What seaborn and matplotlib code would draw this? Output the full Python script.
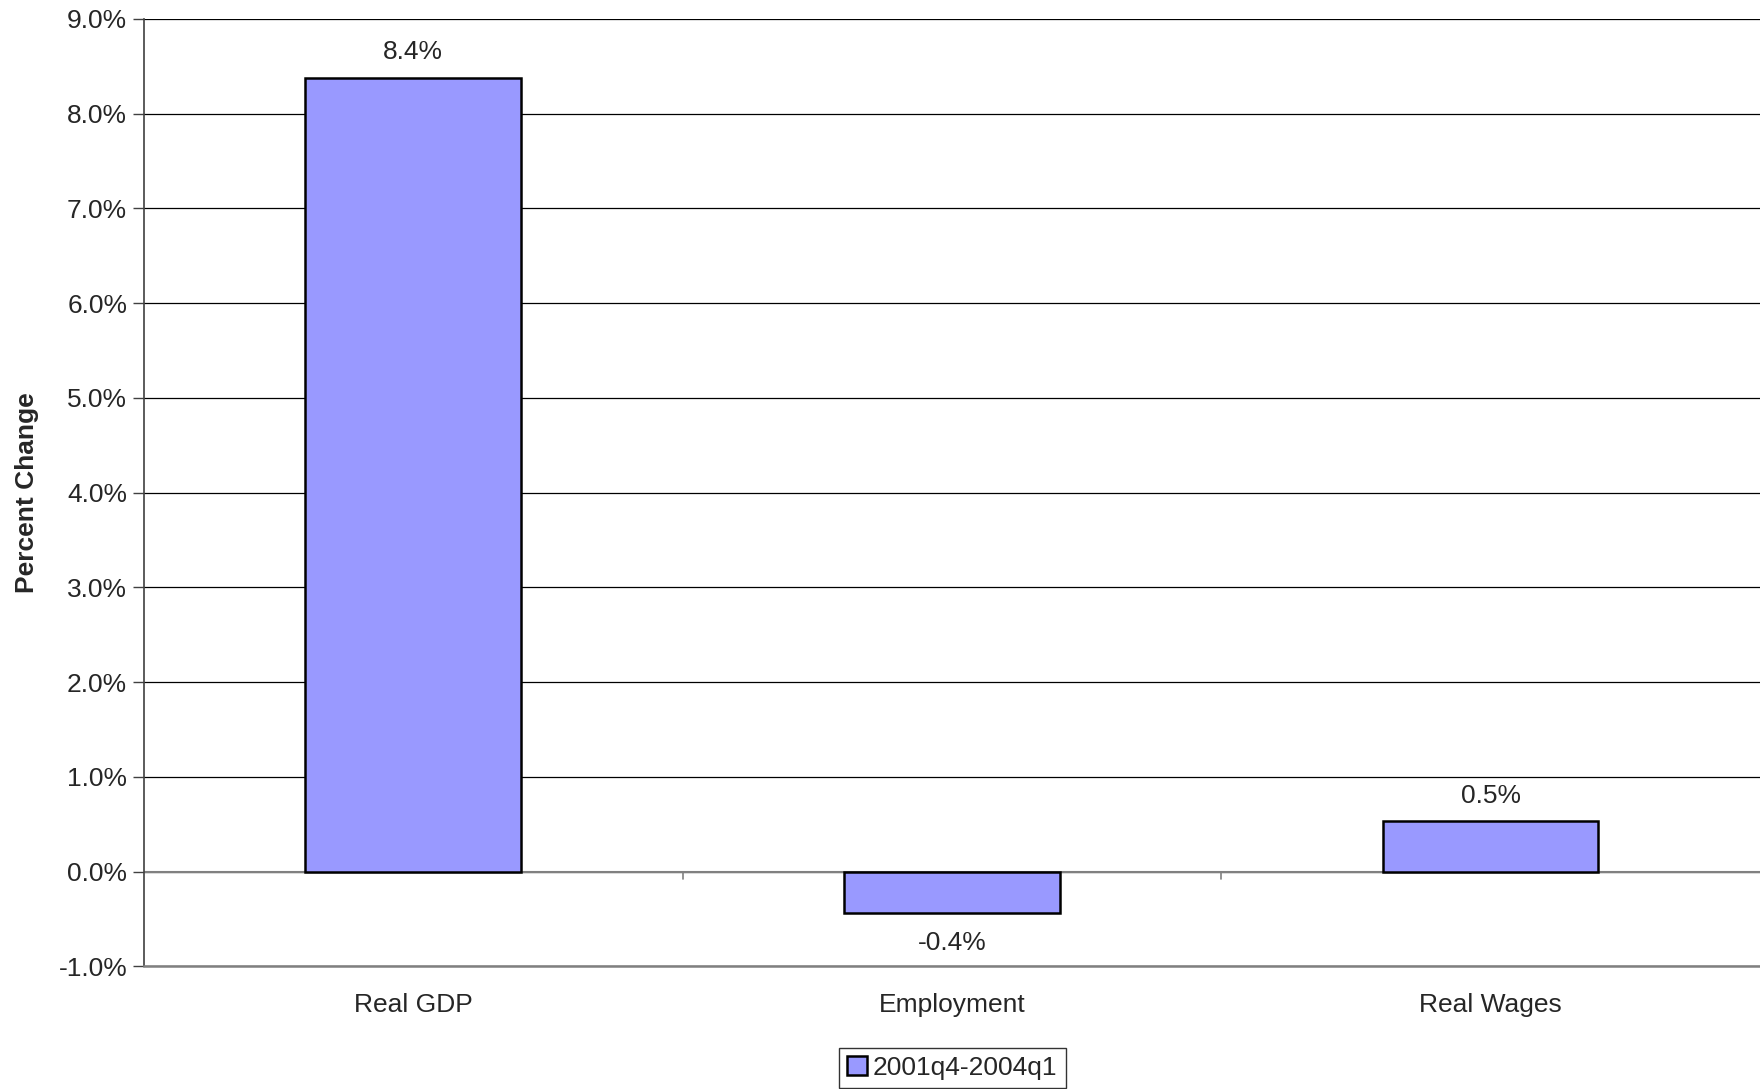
import matplotlib
matplotlib.use("Agg")
import matplotlib.pyplot as plt
import seaborn as sns
import pandas as pd

categories = ["Real GDP", "Employment", "Real Wages"]
values = [8.38, -0.44, 0.53]
series_name = "2001q4-2004q1"
y_ticks = [-1, 0, 1, 2, 3, 4, 5, 6, 7, 8, 9]

df = pd.DataFrame({"category": categories, "value": values, "period": [series_name] * len(categories)})

sns.set_theme(style="white")
plt.rcParams["font.family"] = ["Liberation Sans", "DejaVu Sans"]

FS = 19

fig = plt.figure(figsize=(17.6, 10.89), dpi=100)
ax = fig.add_axes([0.0817, 0.1126, 0.9183, 0.870])

sns.barplot(data=df, x="category", y="value", hue="period", palette=["#9999FF"],
            width=0.4, dodge=False, edgecolor="black", linewidth=1.8, saturation=1,
            ax=ax, zorder=3)

ax.set_ylim(-1, 9)
ax.set_xlim(-0.5, 2.5)
ax.set_yticks(y_ticks)
ax.set_yticklabels([f"{t:.1f}%" for t in y_ticks], fontsize=FS)
ax.set_xlabel("")
ax.set_ylabel("Percent Change", fontsize=FS, fontweight="bold", labelpad=14)

# gridlines
ax.yaxis.grid(True, color="black", linewidth=0.9, zorder=0)
ax.set_axisbelow(True)

for s in ["top", "right"]:
    ax.spines[s].set_visible(False)
ax.spines["left"].set_color("#404040")
ax.spines["left"].set_linewidth(1.2)
ax.spines["bottom"].set_color("#808080")
ax.spines["bottom"].set_linewidth(1.8)

ax.tick_params(axis="y", which="major", direction="out", length=8, width=1, color="#404040", left=True, pad=4)
ax.tick_params(axis="x", length=0, labelsize=FS, pad=19)

# zero line with category boundary ticks
ax.axhline(0, color="#808080", linewidth=1.5, zorder=2)
for b in [0.5, 1.5]:
    ax.plot([b, b], [0, -0.08], color="#808080", linewidth=1.2, zorder=2)

# data labels
for cont in ax.containers:
    ax.bar_label(cont, labels=[f"{v:.1f}%" for v in values], padding=10, fontsize=FS)
for t in ax.texts:
    if t.get_text().startswith("-"):
        x, y = t.xyann
        t.xyann = (x, y - 3)

# legend
leg = ax.get_legend()
if leg is not None:
    leg.remove()
handles, labels = ax.get_legend_handles_labels()
lg = fig.legend(handles[:1], [series_name], loc="lower center", bbox_to_anchor=(0.541, 0.0),
                fontsize=FS, frameon=True, fancybox=False, handlelength=0.75, handleheight=0.75,
                handletextpad=0.25, borderpad=0.3, borderaxespad=0.05)
lg.get_frame().set_edgecolor("black")
lg.get_frame().set_linewidth(1.0)

fig.savefig("out.png", dpi=100)
